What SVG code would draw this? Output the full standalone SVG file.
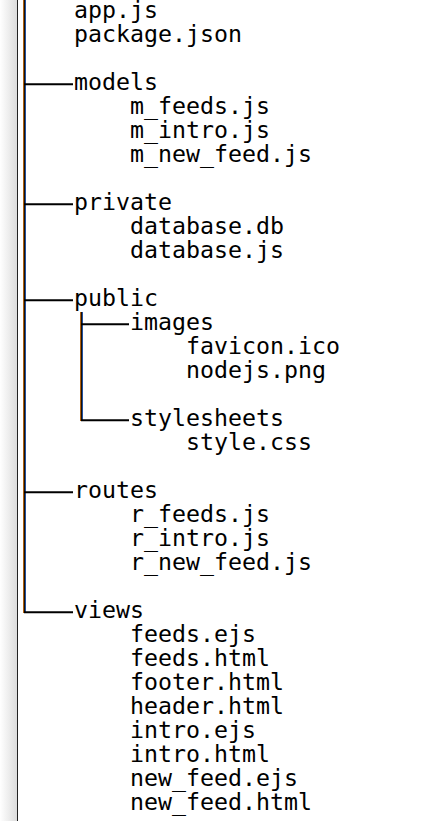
<svg xmlns="http://www.w3.org/2000/svg" width="422" height="821" viewBox="0 0 422 821">
<style>
text{font-family:"DejaVu Sans Mono","Liberation Mono",monospace;font-size:23.26px;fill:#000}
.h{stroke:#000;stroke-width:2}
.vo{stroke:#b06010;stroke-width:1}
.vk{stroke:#1a1008;stroke-width:1}
.vb{stroke:#2050a0;stroke-width:1}
</style>
<defs>
<linearGradient id="sh" x1="0" x2="1" y1="0" y2="0">
<stop offset="0" stop-color="#ffffff"/>
<stop offset="1" stop-color="#dcdcdc"/>
</linearGradient>
</defs>
<rect x="0" y="0" width="422" height="821" fill="#fff"/>
<rect x="0" y="0" width="17" height="821" fill="url(#sh)"/>
<line x1="17.5" y1="0" x2="17.5" y2="821" stroke="#222" stroke-width="1"/>
<g id="connectors">
<line class="vo" x1="23.5" y1="0" x2="23.5" y2="613"/>
<line class="vk" x1="24.5" y1="0" x2="24.5" y2="613"/>
<line class="vb" x1="25.5" y1="0" x2="25.5" y2="612"/>
<line class="h" x1="24" y1="84.3" x2="73" y2="84.3"/>
<line class="h" x1="24" y1="204.3" x2="73" y2="204.3"/>
<line class="h" x1="24" y1="300.3" x2="73" y2="300.3"/>
<line class="h" x1="24" y1="492.3" x2="73" y2="492.3"/>
<line class="h" x1="24" y1="612.3" x2="73" y2="612.3"/>
<line class="vo" x1="80.5" y1="312" x2="80.5" y2="421"/>
<line class="vk" x1="81.5" y1="312" x2="81.5" y2="421"/>
<line class="vb" x1="82.5" y1="312" x2="82.5" y2="420"/>
<line class="h" x1="81" y1="324.3" x2="129" y2="324.3"/>
<line class="h" x1="81" y1="420.3" x2="129" y2="420.3"/>
</g>
<g id="root-files">
<text x="74" y="18.3">app.js</text>
<text x="74" y="42.3">package.json</text>
</g>
<g id="models">
<text x="74" y="90.3">models</text>
<text x="130" y="114.3">m_feeds.js</text>
<text x="130" y="138.3">m_intro.js</text>
<text x="130" y="162.3">m_new_feed.js</text>
</g>
<g id="private">
<text x="74" y="210.3">private</text>
<text x="130" y="234.3">database.db</text>
<text x="130" y="258.3">database.js</text>
</g>
<g id="public">
<text x="74" y="306.3">public</text>
</g>
<g id="images">
<text x="130" y="330.3">images</text>
<text x="186" y="354.3">favicon.ico</text>
<text x="186" y="378.3">nodejs.png</text>
</g>
<g id="stylesheets">
<text x="130" y="426.3">stylesheets</text>
<text x="186" y="450.3">style.css</text>
</g>
<g id="routes">
<text x="74" y="498.3">routes</text>
<text x="130" y="522.3">r_feeds.js</text>
<text x="130" y="546.3">r_intro.js</text>
<text x="130" y="570.3">r_new_feed.js</text>
</g>
<g id="views">
<text x="74" y="618.3">views</text>
<text x="130" y="642.3">feeds.ejs</text>
<text x="130" y="666.3">feeds.html</text>
<text x="130" y="690.3">footer.html</text>
<text x="130" y="714.3">header.html</text>
<text x="130" y="738.3">intro.ejs</text>
<text x="130" y="762.3">intro.html</text>
<text x="130" y="786.3">new_feed.ejs</text>
<text x="130" y="810.3">new_feed.html</text>
</g>
</svg>
